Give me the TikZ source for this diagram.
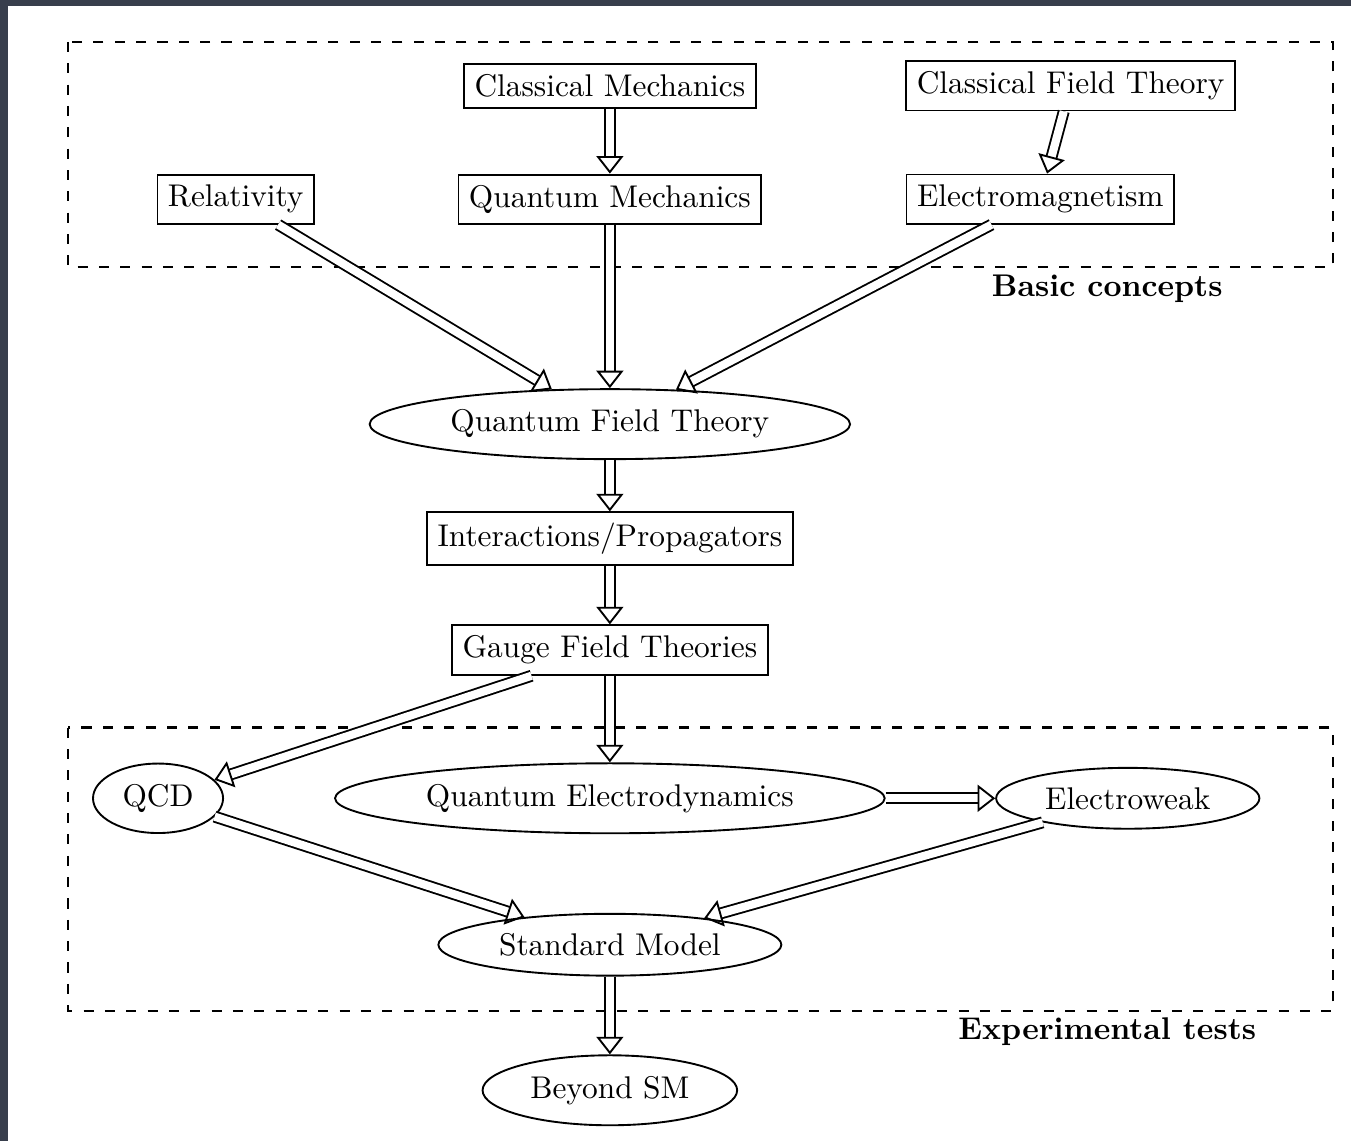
\documentclass[tikz,border=0pt]{standalone}
\usetikzlibrary{shapes.geometric, arrows.meta}

\definecolor{slidebg}{RGB}{56,62,76}

\tikzset{
    concept/.style = {draw, semithick, rectangle},
    theory/.style = {draw, semithick, ellipse},
    link/.style = {double, double distance = 2.6pt, semithick,
                   -{Triangle[open, length = 5.6pt, width = 8.6pt]}},
    group/.style = {thick, dash pattern = on 3.2pt off 3.6pt},
}

\begin{document}
\begin{tikzpicture}[align = center]
                    % slide background
                    \fill[slidebg] (-6.83, 4.75) rectangle (8.30, -8.03);
                    \fill[white] (-6.74, 4.68) rectangle (8.30, -8.03);
                    \useasboundingbox (-6.83, 4.75) rectangle (8.30, -8.03);

                    \node[concept] (CM)  at (    0,   3.79) {Classical Mechanics};
                    \node[concept] (CFT) at ( 5.16,   3.79) {Classical Field Theory};
                    \node[concept] (Rel) at (-4.19,   2.52) {Relativity};
                    \node[concept] (QM)  at (    0,   2.52) {Quantum Mechanics};
                    \node[concept] (EM)  at ( 4.82,   2.52) {Electromagnetism};

                    \node[theory]  (QFT) at (    0,      0) {Quantum Field Theory};
                    \node[concept] (IP)  at (    0, - 1.28) {Interactions/Propagators};
                    \node[concept] (GFT) at (    0, - 2.53) {Gauge Field Theories};

                    \node[theory]  (QCD) at (-5.06, - 4.19) {QCD};
                    \node[theory]  (QED) at (    0, - 4.19) {Quantum Electrodynamics};
                    \node[theory]  (EW)  at ( 5.80, - 4.19) {Electroweak};
                    \node[theory]  (SM)  at (    0, - 5.83) {Standard Model};
                    \node[theory]  (BSM) at (    0, - 7.46) {Beyond SM};

                    % groups
                    \draw[group] (-6.07, 4.28) rectangle (8.10, 1.76);
                    \draw[group] (-6.07, -3.40) rectangle (8.10, -6.57);
                    \node (Basic) at (5.57, 1.52) {\bf Basic concepts};
                    \node (Tests) at (5.57, -6.80) {\bf Experimental tests};

                    \draw[link] (CM)  -- (QM);
                    \draw[link] (CFT) -- (EM);
                    \draw[link] (Rel) -- (QFT);
                    \draw[link] (QM)  -- (QFT);
                    \draw[link] (EM)  -- (QFT);
                    \draw[link] (QFT) -- (IP);
                    \draw[link] (IP)  -- (GFT);
                    \draw[link] (GFT) -- (QCD);
                    \draw[link] (GFT) -- (QED);
                    \draw[link] (QED) -- (EW);
                    \draw[link] (QCD) -- (SM);
                    \draw[link] (EW)  -- (SM);
                    \draw[link] (SM)  -- (BSM);
                \end{tikzpicture}
\end{document}
